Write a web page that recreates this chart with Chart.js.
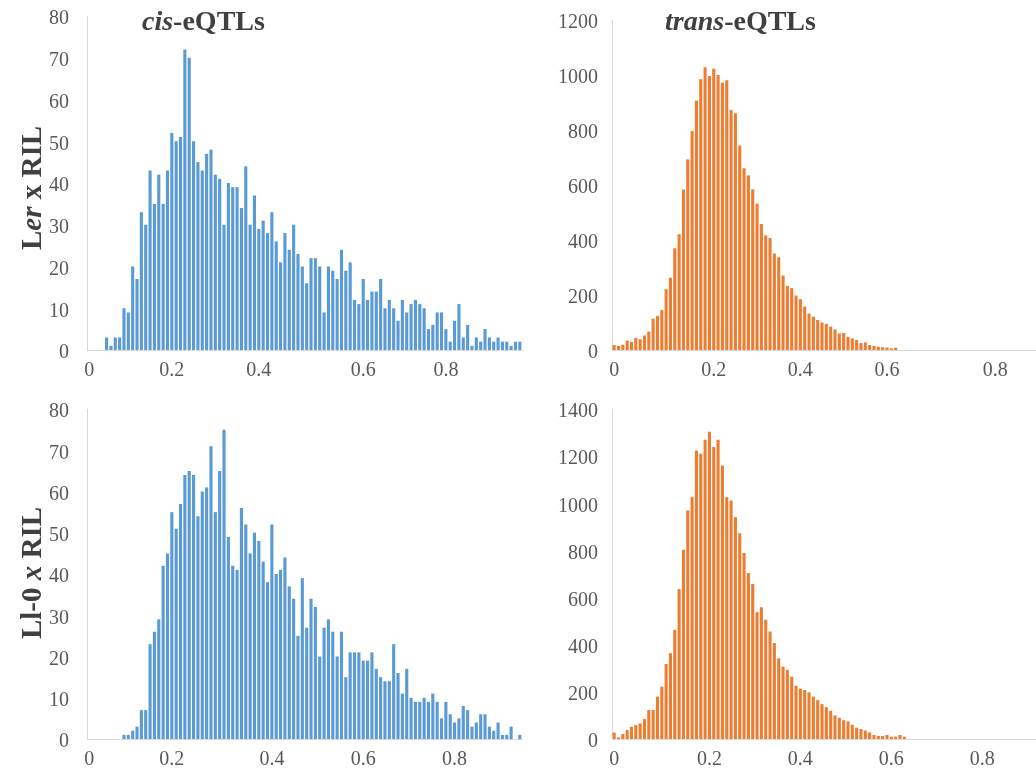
<!DOCTYPE html>
<html>
<head>
<meta charset="utf-8">
<script src="https://cdn.jsdelivr.net/npm/chart.js@4.4.0/dist/chart.umd.min.js"></script>
<style>
html, body { margin: 0; padding: 0; background: #fff; }
body { width: 1036px; height: 769px; overflow: hidden; position: relative; }
canvas { position: absolute; }
.col-title {
  position: absolute; font-family: 'Liberation Serif', serif; font-weight: bold;
  font-size: 28px; line-height: 1; color: #404040; white-space: nowrap;
  transform: translateY(-50%);
}
.row-title {
  position: absolute; font-family: 'Liberation Serif', serif; font-weight: bold;
  font-size: 29px; line-height: 1; color: #404040; white-space: nowrap;
  transform: translate(-50%, -50%) rotate(-90deg);
}
</style>
</head>
<body>
<canvas id="cisLer" width="540" height="380" style="left:0;top:0"></canvas>
<canvas id="transLer" width="530" height="380" style="left:525px;top:0"></canvas>
<canvas id="cisLl" width="540" height="380" style="left:0;top:389px"></canvas>
<canvas id="transLl" width="530" height="380" style="left:525px;top:389px"></canvas>

<div class="col-title" style="left:142px;top:21px"><i>cis</i>-eQTLs</div>
<div class="col-title" style="left:665px;top:21px"><i>trans</i>-eQTLs</div>
<div class="row-title" style="left:31px;top:188px">L<i>er</i> x RIL</div>
<div class="row-title" style="left:31px;top:573px">Ll-0 <i>x</i> RIL</div>

<script>
(function(){
// bin counts, 100 bins per panel
const cisLer = [
  0, 0, 0, 0, 3, 1, 3, 3, 10, 9,
  20, 17, 33, 30, 43, 35, 42, 35, 43, 52,
  50, 51, 72, 70, 50, 45, 43, 47, 48, 42,
  41, 30, 40, 39, 39, 34, 44, 30, 37, 29,
  31, 28, 33, 26, 21, 28, 24, 30, 23, 20,
  16, 22, 22, 20, 9, 20, 19, 17, 24, 19,
  21, 12, 11, 17, 12, 14, 14, 17, 10, 12,
  10, 7, 12, 9, 11, 12, 11, 10, 5, 6,
  9, 9, 5, 2, 7, 11, 3, 6, 1, 3,
  2, 5, 3, 2, 3, 2, 2, 1, 2, 2
];
const transLer = [
  18, 15, 19, 34, 29, 44, 39, 53, 67, 114,
  124, 145, 221, 263, 370, 421, 584, 693, 796, 907,
  985, 1028, 996, 1023, 1000, 972, 981, 873, 861, 743,
  661, 635, 584, 532, 458, 417, 407, 351, 337, 271,
  233, 225, 198, 185, 158, 133, 121, 109, 100, 95,
  85, 75, 60, 62, 48, 42, 36, 25, 28, 18,
  15, 12, 10, 9, 6, 8, 0, 0, 0, 0,
  0, 0, 0, 0, 0, 0, 0, 0, 0, 0,
  0, 0, 0, 0, 0, 0, 0, 0, 0, 0,
  0, 0, 0, 0, 0, 0, 0, 0, 0, 0
];
const cisLl = [
  0, 0, 0, 0, 0, 0, 0, 0, 1, 1,
  2, 3, 7, 7, 23, 26, 29, 42, 45, 55,
  51, 57, 64, 65, 64, 54, 60, 61, 71, 55,
  65, 75, 49, 42, 41, 56, 52, 45, 50, 48,
  43, 38, 52, 40, 41, 44, 37, 34, 25, 39,
  27, 34, 32, 20, 27, 29, 26, 20, 26, 15,
  21, 21, 21, 19, 19, 21, 17, 15, 14, 14,
  23, 16, 11, 17, 10, 9, 9, 10, 9, 11,
  9, 5, 9, 6, 4, 5, 8, 7, 3, 4,
  6, 6, 3, 2, 4, 1, 1, 3, 0, 1
];
const transLl = [
  27, 7, 21, 38, 52, 59, 66, 85, 123, 123,
  180, 222, 318, 364, 463, 636, 803, 970, 1026, 1224,
  1210, 1270, 1304, 1239, 1270, 1160, 1026, 1012, 941, 873,
  789, 704, 658, 538, 559, 506, 456, 407, 342, 307,
  293, 264, 226, 214, 208, 198, 180, 165, 148, 135,
  120, 100, 90, 80, 75, 60, 48, 42, 36, 28,
  17, 13, 13, 17, 10, 10, 17, 10, 0, 0,
  0, 0, 0, 0, 0, 0, 0, 0, 0, 0,
  0, 0, 0, 0, 0, 0, 0, 0, 0, 0,
  0, 0, 0, 0, 0, 0, 0, 0, 0, 0
];

// which bins carry an axis label, and the label text
const tickText = ['0', '0.2', '0.4', '0.6', '0.8'];
const cisLerTicks = [0, 19, 39, 63, 82];
const transLerTicks = [0, 23, 43, 63, 88];
const cisLlTicks = [0, 19, 42, 63, 84];
const transLlTicks = [0, 22, 43, 64, 85];

const blue = '#5b9bd5';
const orange = '#ed7d31';
const tickFont = { family: "'Liberation Serif', serif", size: 20 };

function drawHist(id, values, tickIdx, color, yMax, yStep, padTop, padRight, yPad) {
  const labels = values.map((v, i) => {
    const k = tickIdx.indexOf(i);
    return k >= 0 ? tickText[k] : '';
  });
  new Chart(document.getElementById(id), {
    type: 'bar',
    data: {
      labels: labels,
      datasets: [{
        data: values,
        backgroundColor: color,
        barPercentage: 0.72,
        categoryPercentage: 1
      }]
    },
    options: {
      responsive: false,
      animation: false,
      layout: { padding: { top: padTop, right: padRight, left: 0, bottom: 0 } },
      plugins: { legend: { display: false }, tooltip: { enabled: false } },
      scales: {
        x: {
          grid: { display: false },
          border: { color: '#d9d9d9', width: 1 },
          ticks: { autoSkip: false, maxRotation: 0, padding: 1, color: '#595959', font: tickFont },
          afterFit: (s) => { s.height = 30; }
        },
        y: {
          min: 0,
          max: yMax,
          grid: { display: false },
          border: { color: '#d9d9d9', width: 1 },
          ticks: {
            stepSize: yStep, padding: yPad, labelOffset: 3, color: '#595959', font: tickFont,
            callback: (v) => String(v)
          },
          afterFit: (s) => {
            s.width = 87;
            s.paddingTop = 0;
            s.paddingBottom = 0;
          }
        }
      }
    }
  });
}

drawHist('cisLer', cisLer, cisLerTicks, blue, 80, 10, 16, 18, 10);
drawHist('transLer', transLer, transLerTicks, orange, 1200, 200, 20, 10, 6);
drawHist('cisLl', cisLl, cisLlTicks, blue, 80, 10, 20, 18, 10);
drawHist('transLl', transLl, transLlTicks, orange, 1400, 200, 20, 10, 6);
}());
</script>
</body>
</html>
